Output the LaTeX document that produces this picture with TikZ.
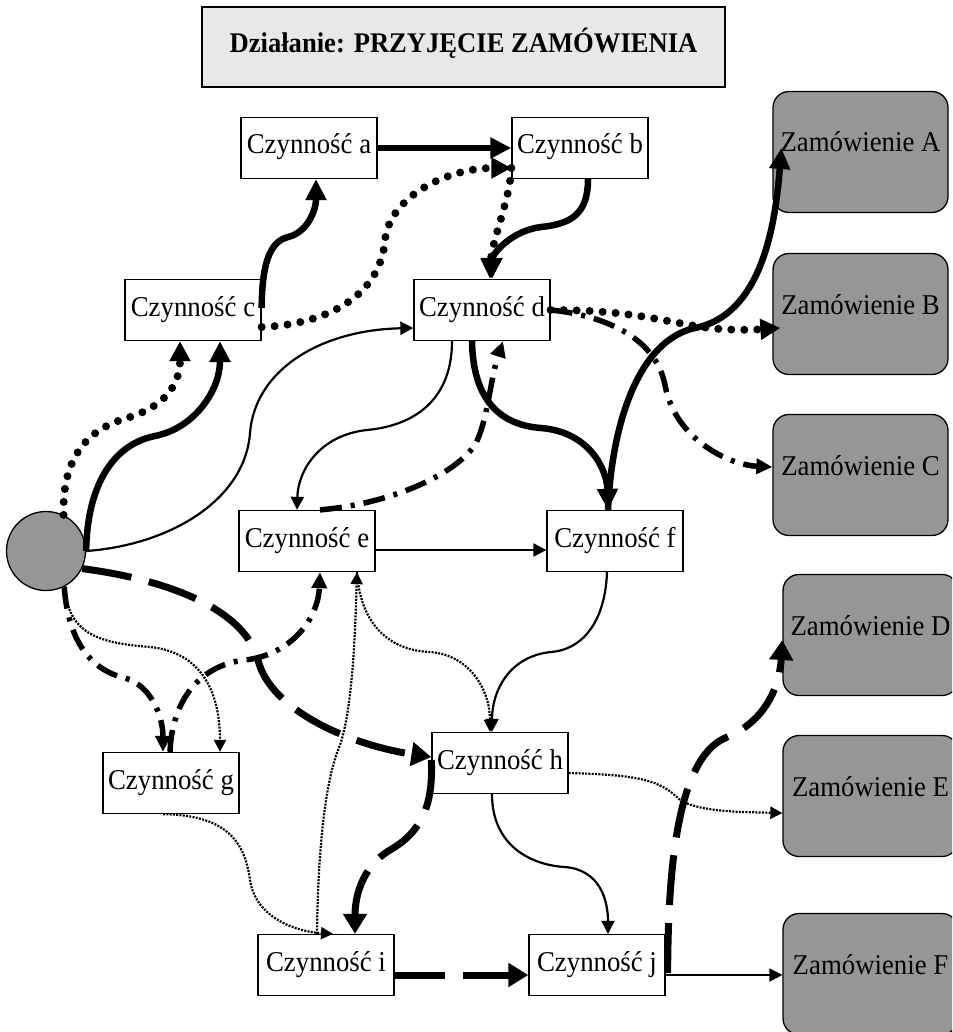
\documentclass[tikz,border=0pt]{standalone}
\usepackage{fontspec}
\usepackage{graphicx}
\setmainfont{Liberation Serif}
\usetikzlibrary{arrows.meta}
\definecolor{zgray}{RGB}{150,150,150}
\definecolor{tgray}{RGB}{232,232,232}
\newcommand{\vstr}[1]{\scalebox{1}[1.07]{#1}}
\begin{document}
\begin{tikzpicture}[x=1pt,y=-1pt,
  act/.style={draw, line width=1.3pt, fill=white, minimum width=136pt, minimum height=61pt,
    inner sep=0pt, text height=18pt, text depth=6pt, font=\fontsize{26.8}{30}\selectfont},
  zam/.style={draw, line width=1.3pt, fill=zgray, rounded corners=16pt, minimum width=175pt,
    minimum height=121pt, inner sep=0pt, text height=17pt, text depth=17pt,
    font=\fontsize{26.8}{30}\selectfont},
  ttl/.style={draw, line width=1.3pt, fill=tgray, minimum width=523pt, minimum height=80pt,
    inner sep=0pt, text height=18pt, text depth=6pt, font=\fontsize{26.6}{30}\selectfont\bfseries},
  thk/.style={line width=6.5pt, -{Triangle[length=21pt,width=20pt]}},
  thn/.style={line width=2.2pt, -{Triangle[length=13pt,width=13pt]}},
  bigdots/.style={line width=8pt, dash pattern=on 0pt off 13pt, line cap=round,
    -{Triangle[length=20pt,width=20pt]}},
  dshdt/.style={line width=5.5pt, dash pattern=on 22pt off 9pt on 4pt off 9pt,
    -{Triangle[length=16pt,width=15pt]}},
  lngdsh/.style={line width=7pt, dash pattern=on 50pt off 18pt,
    -{Triangle[length=20pt,width=23pt]}},
  smdots/.style={line width=2.2pt, dash pattern=on 2pt off 1.3pt,
    -{Triangle[length=12pt,width=12pt]}}
]
\useasboundingbox (0,0) rectangle (952,1032);
\clip (0,0) rectangle (952,1032);

% title
\node[ttl] (t) at (463.5,47) {\vstr{Działanie: PRZYJĘCIE ZAMÓWIENIA}};

% start circle
\node[circle, draw, line width=1.3pt, fill=zgray, minimum size=79pt, inner sep=0pt] (o) at (46,551) {};

% activities
\node[act] (a) at (309,148) {\vstr{Czynność a}};
\node[act] (b) at (580,148) {\vstr{Czynność b}};
\node[act] (c) at (193,310) {\vstr{Czynność c}};
\node[act] (d) at (482,310) {\vstr{Czynność d}};
\node[act] (e) at (307,541) {\vstr{Czynność e}};
\node[act] (f) at (615,541) {\vstr{Czynność f}};
\node[act] (g) at (171,783) {\vstr{Czynność g}};
\node[act] (h) at (500,763) {\vstr{Czynność h}};
\node[act] (i) at (326,965) {\vstr{Czynność i}};
\node[act] (j) at (597,965) {\vstr{Czynność j}};

% orders
\node[zam] (A) at (860.5,152) {\vstr{Zamówienie A}};
\node[zam] (B) at (860.5,314) {\vstr{Zamówienie B}};
\node[zam] (C) at (860.5,475) {\vstr{Zamówienie C}};
\node[zam] (D) at (870.5,635) {\vstr{Zamówienie D}};
\node[zam] (E) at (870.5,796) {\vstr{Zamówienie E}};
\node[zam] (F) at (870.5,974) {\vstr{Zamówienie F}};

% thick solid
\draw[thk] ([yshift=2pt]c.east) .. controls (262,268) and (268,242) .. (288,237)
  .. controls (306,233) and (316,212) .. ([xshift=7pt]a.south);
\draw[thk] (a.east) -- (b.west);
\draw[thk] ([xshift=8pt]b.south) .. controls (588,215) and (570,224) .. (541,227)
  .. controls (510,231) and (492,255) .. ([xshift=10pt]d.north);
\draw[thk] (o.east) .. controls (87,490) and (110,445) .. (155,436)
  .. controls (195,428) and (220,390) .. ([xshift=27pt]c.south);
\draw[thk] ([xshift=-10pt]d.south) .. controls (473,400) and (500,425) .. (541,428)
  .. controls (590,432) and (607,470) .. ([xshift=-7pt]f.north);
\draw[thk] ([xshift=-7pt]f.north) .. controls (612,420) and (640,340) .. (695,328)
  .. controls (760,315) and (775,230) .. ([xshift=9pt,yshift=4pt]A.west);

% thin solid
\draw[thn] (o.east) .. controls (170,545) and (245,500) .. (250,433)
  .. controls (255,370) and (320,330) .. ([yshift=-18pt]d.west);
\draw[thn] ([xshift=-30pt]d.south) .. controls (452,395) and (420,425) .. (367,430)
  .. controls (320,435) and (298,470) .. ([xshift=-10pt]e.north);
\draw[thn] ([yshift=-9pt]e.east) -- ([yshift=-9pt]f.west);
\draw[thn] ([xshift=-8pt]f.south) .. controls (605,625) and (580,650) .. (551,652)
  .. controls (510,656) and (492,690) .. ([xshift=-8pt]h.north);
\draw[thn] ([xshift=-8pt]h.south) .. controls (492,845) and (530,865) .. (565,867)
  .. controls (600,870) and (608,900) .. ([xshift=11pt]j.north);
\draw[thn] ([yshift=-10pt]j.east) -- ([yshift=-1pt]F.west);

% thick dotted
\draw[bigdots] ([yshift=-17pt]c.east) .. controls (320,325) and (380,300) .. (385,240)
  .. controls (390,195) and (450,168) .. ([yshift=-20pt]b.west);
\draw[bigdots] ([yshift=-20pt]b.west) .. controls (510,200) and (492,240) .. ([xshift=8pt]d.north);
\draw[bigdots] (o.64) .. controls (62,460) and (85,430) .. (127,418)
  .. controls (170,405) and (180,380) .. ([xshift=-13pt]c.south);
\draw[bigdots] (d.east) .. controls (620,310) and (650,318) .. (690,325)
  .. controls (720,331) and (750,330) .. ([xshift=8pt,yshift=-14pt]B.west);

% dash-dot
\draw[dshdt] (d.east) .. controls (600,315) and (655,335) .. (665,385)
  .. controls (675,440) and (730,465) .. ([yshift=8pt]C.west);
\draw[dshdt] ([xshift=13pt]e.north) .. controls (380,505) and (450,480) .. (475,445)
  .. controls (488,420) and (490,380) .. ([xshift=21pt]d.south);
\draw[dshdt] (o.-63) .. controls (68,640) and (90,670) .. (125,678)
  .. controls (150,685) and (163,715) .. ([xshift=-8pt]g.north);
\draw[dshdt] ([xshift=-1pt]g.north) .. controls (172,700) and (200,665) .. (245,660)
  .. controls (290,655) and (318,620) .. ([xshift=13pt]e.south);

% long dashed
\draw[lngdsh] (o.-26) .. controls (170,580) and (245,610) .. (258,660)
  .. controls (270,710) and (350,745) .. ([yshift=6pt]h.west);
\draw[lngdsh] ([yshift=3pt]h.west) .. controls (433,800) and (425,830) .. (390,850)
  .. controls (360,868) and (355,900) .. ([xshift=29pt]i.north);
\draw[lngdsh] ([yshift=-10pt]i.east) -- ([yshift=-10pt]j.west);
\draw[lngdsh] ([xshift=2pt,yshift=-8pt]j.east) .. controls (668,880) and (675,760) .. (725,738)
  .. controls (770,720) and (780,680) .. ([yshift=-5pt]D.west);

% thin dotted
\draw[smdots] (o.-62) .. controls (68,635) and (100,643) .. (150,647)
  .. controls (200,652) and (220,690) .. ([xshift=49pt]g.north);
\draw[smdots] ([xshift=-8pt]g.south) .. controls (230,815) and (245,845) .. (250,880)
  .. controls (256,920) and (300,932) .. ([xshift=7pt]i.north);
\draw[smdots] ([xshift=-9pt]i.north) .. controls (318,850) and (325,780) .. (340,745)
  .. controls (352,710) and (355,640) .. ([xshift=50pt]e.south);
\draw[smdots] ([xshift=50pt]e.south) .. controls (360,620) and (385,650) .. (430,652)
  .. controls (470,655) and (490,690) .. ([xshift=-10pt]h.north);
\draw[smdots] ([yshift=-10pt]h.east) .. controls (640,775) and (660,780) .. (680,800)
  .. controls (700,812) and (740,812) .. ([yshift=-17pt]E.west);
\end{tikzpicture}
\end{document}
